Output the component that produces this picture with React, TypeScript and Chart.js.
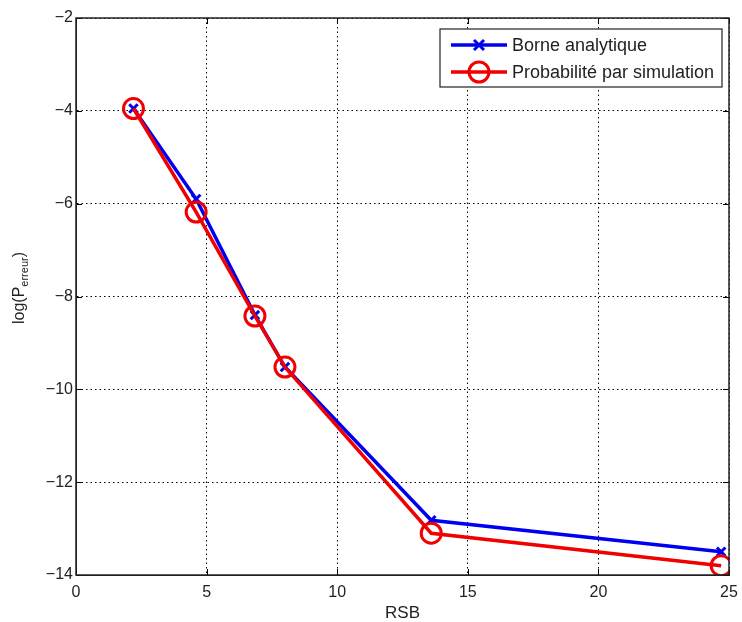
import React, { useEffect, useRef } from "react";
import { Chart, registerables } from "chart.js";

Chart.register(...registerables);

const rsb = [2.2, 4.6, 6.85, 8.0, 13.6, 24.7];
const borneAnalytique = [-3.95, -5.9, -8.4, -9.52, -12.82, -13.5];
const probaSimulation = [-3.95, -6.18, -8.42, -9.52, -13.1, -13.8];
const seriesLabels = ["Borne analytique", "Probabilité par simulation"];
const xTitle = "RSB";
const yTitleMain = "log(P";
const yTitleSub = "erreur";
const yTitleEnd = ")";

const FONT = "'Liberation Sans', Arial, sans-serif";
const BLUE = "#0000f0";
const RED = "#f00000";

const matlabPlugin = {
  id: "matlabDecor",
  afterDraw(chart: any) {
    const { ctx, chartArea, scales } = chart;
    const { left, right, top, bottom } = chartArea;
    ctx.save();
    // inward ticks
    ctx.strokeStyle = "#000";
    ctx.lineWidth = 1;
    const tl = 6;
    scales.x.ticks.forEach((t: any) => {
      const px = Math.round(scales.x.getPixelForValue(t.value)) + 0.5;
      ctx.beginPath();
      ctx.moveTo(px, bottom);
      ctx.lineTo(px, bottom - tl);
      ctx.moveTo(px, top);
      ctx.lineTo(px, top + tl);
      ctx.stroke();
    });
    scales.y.ticks.forEach((t: any) => {
      const py = Math.round(scales.y.getPixelForValue(t.value)) + 0.5;
      ctx.beginPath();
      ctx.moveTo(left, py);
      ctx.lineTo(left + tl, py);
      ctx.moveTo(right, py);
      ctx.lineTo(right - tl, py);
      ctx.stroke();
    });
    // box
    ctx.strokeStyle = "#222";
    ctx.lineWidth = 1.5;
    ctx.strokeRect(left, top, right - left, bottom - top);

    // y title with subscript
    ctx.fillStyle = "#222";
    ctx.translate(20, 288);
    ctx.rotate(-Math.PI / 2);
    ctx.textBaseline = "middle";
    const mainFont = "16px " + FONT;
    const subFont = "11px " + FONT;
    ctx.font = mainFont;
    const w1 = ctx.measureText(yTitleMain).width;
    const w3 = ctx.measureText(yTitleEnd).width;
    ctx.font = subFont;
    const w2 = ctx.measureText(yTitleSub).width;
    let x0 = -(w1 + w2 + w3) / 2;
    ctx.font = mainFont;
    ctx.textAlign = "left";
    ctx.fillText(yTitleMain, x0, 0);
    x0 += w1;
    ctx.font = subFont;
    ctx.fillText(yTitleSub, x0, 5);
    x0 += w2;
    ctx.font = mainFont;
    ctx.fillText(yTitleEnd, x0, 0);
    ctx.setTransform(1, 0, 0, 1, 0, 0);

    // legend
    const lx = 440, ly = 29, lw = 282, lh = 58;
    ctx.fillStyle = "#fff";
    ctx.fillRect(lx, ly, lw, lh);
    ctx.strokeStyle = "#222";
    ctx.lineWidth = 1.2;
    ctx.strokeRect(lx, ly, lw, lh);
    const rows = [
      { y: 45, color: BLUE, marker: "x", label: seriesLabels[0] },
      { y: 72, color: RED, marker: "o", label: seriesLabels[1] },
    ];
    rows.forEach((r) => {
      ctx.strokeStyle = r.color;
      ctx.lineWidth = 3.5;
      ctx.beginPath();
      ctx.moveTo(451, r.y);
      ctx.lineTo(507, r.y);
      ctx.stroke();
      const cx = 479;
      if (r.marker === "x") {
        ctx.lineWidth = 3;
        ctx.beginPath();
        ctx.moveTo(cx - 5, r.y - 5);
        ctx.lineTo(cx + 5, r.y + 5);
        ctx.moveTo(cx - 5, r.y + 5);
        ctx.lineTo(cx + 5, r.y - 5);
        ctx.stroke();
      } else {
        ctx.lineWidth = 3;
        ctx.beginPath();
        ctx.arc(cx, r.y, 10, 0, Math.PI * 2);
        ctx.stroke();
      }
      ctx.fillStyle = "#222";
      ctx.font = "18px " + FONT;
      ctx.textAlign = "left";
      ctx.textBaseline = "middle";
      ctx.fillText(r.label, 512, r.y + 1);
    });
    ctx.restore();
  },
};

export default function App() {
  const ref = useRef<HTMLCanvasElement>(null);
  useEffect(() => {
    document.body.style.margin = "0";
    const canvas = ref.current!;
    const chart = new Chart(canvas, {
      type: "line",
      data: {
        datasets: [
          {
            label: seriesLabels[0],
            data: rsb.map((x, i) => ({ x, y: borneAnalytique[i] })),
            borderColor: BLUE,
            backgroundColor: BLUE,
            borderWidth: 3.5,
            pointStyle: "crossRot",
            pointRadius: 6,
            pointBorderWidth: 3,
            tension: 0,
            order: 1,
          },
          {
            label: seriesLabels[1],
            data: rsb.map((x, i) => ({ x, y: probaSimulation[i] })),
            borderColor: RED,
            backgroundColor: "rgba(0,0,0,0)",
            borderWidth: 3.5,
            pointStyle: "circle",
            pointRadius: 10,
            pointBorderWidth: 3,
            tension: 0,
            order: 0,
          },
        ],
      },
      options: {
        animation: false,
        responsive: false,
        layout: { padding: { top: 18, right: 13, left: 0, bottom: 0 } },
        plugins: {
          legend: { display: false },
          tooltip: { enabled: false },
        },
        scales: {
          x: {
            type: "linear",
            min: 0,
            max: 25,
            ticks: {
              stepSize: 5,
              color: "#222",
              font: { family: FONT, size: 16 },
              padding: 8,
            },
            grid: {
              color: "#000",
              lineWidth: 1,
              drawTicks: false,
            },
            border: { display: true, color: "#222", dash: [1.5, 3] },
            title: {
              display: true,
              text: xTitle,
              color: "#222",
              font: { family: FONT, size: 17 },
              padding: { top: 0, bottom: -2 },
            },
            afterFit: (s: any) => {
              s.height = 47;
              s.paddingLeft = 0;
              s.paddingRight = 0;
            },
          },
          y: {
            type: "linear",
            min: -14,
            max: -2,
            ticks: {
              stepSize: 2,
              color: "#222",
              font: { family: FONT, size: 16 },
              padding: 3,
              callback: (v: any) => String(v).replace("-", "\u2212"),
            },
            grid: {
              color: "#000",
              lineWidth: 1,
              drawTicks: false,
            },
            border: { display: true, color: "#222", dash: [1.5, 3] },
            afterFit: (s: any) => {
              s.width = 76;
              s.paddingTop = 0;
              s.paddingBottom = 0;
            },
          },
        },
      } as any,
      plugins: [matlabPlugin],
    });
    return () => chart.destroy();
  }, []);
  return (
    <div style={{ width: 742, height: 622 }}>
      <canvas ref={ref} width={742} height={622} />
    </div>
  );
}
